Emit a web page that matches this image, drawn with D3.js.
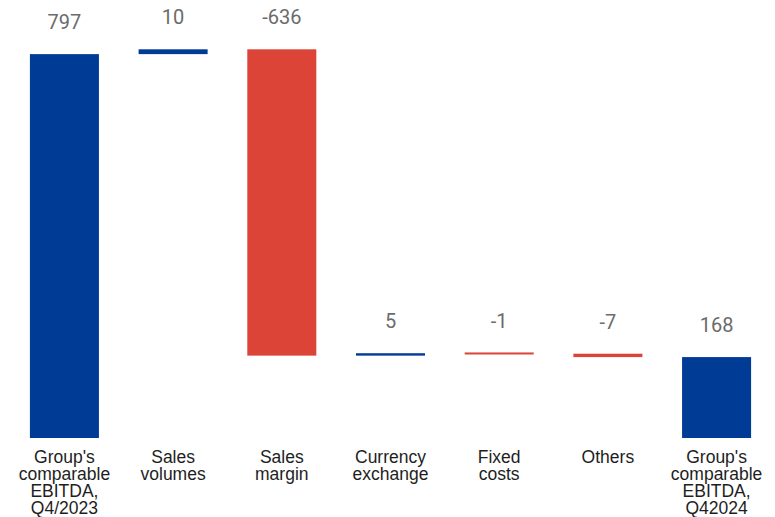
<!DOCTYPE html>
<html>
<head>
<meta charset="utf-8">
<script src="https://cdn.jsdelivr.net/npm/d3@7"></script>
<style>
  html, body { margin: 0; padding: 0; background: #fff; }
  svg { display: block; }
</style>
</head>
<body>
<svg id="chart" width="775" height="517"></svg>
<script>
// Waterfall: comparable EBITDA bridge
const categories = [
  "Group's comparable EBITDA, Q4/2023",
  "Sales volumes",
  "Sales margin",
  "Currency exchange",
  "Fixed costs",
  "Others",
  "Group's comparable EBITDA, Q42024"
];
const categoryLines = [
  ["Group's", "comparable", "EBITDA,", "Q4/2023"],
  ["Sales", "volumes"],
  ["Sales", "margin"],
  ["Currency", "exchange"],
  ["Fixed", "costs"],
  ["Others"],
  ["Group's", "comparable", "EBITDA,", "Q42024"]
];
const values = [797, 10, -636, 5, -1, -7, 168];
const kinds = ["total", "delta", "delta", "delta", "delta", "delta", "total"];

const BLUE = "#003b96";
const RED = "#db4437";

// running totals -> start/end for each bar
let running = 0;
const bars = values.map((v, i) => {
  let start, end;
  if (kinds[i] === "total") { start = 0; end = v; running = v; }
  else { start = running; end = running + v; running = end; }
  return { cat: categories[i], lines: categoryLines[i], value: v, start, end,
           color: (kinds[i] === "total" || v > 0) ? BLUE : RED };
});

const svg = d3.select("#chart");

const x = d3.scaleBand()
  .domain(categories)
  .range([6, 775])
  .paddingInner(0.365)
  .paddingOuter(0.22);

const maxTop = d3.max(bars, d => Math.max(d.start, d.end));
const y = d3.scaleLinear()
  .domain([0, maxTop])
  .range([438, 49.3]);

const minH = 2;

svg.append("g").selectAll("rect")
  .data(bars)
  .join("rect")
  .attr("x", d => x(d.cat))
  .attr("width", x.bandwidth())
  .attr("y", d => {
    const top = y(Math.max(d.start, d.end));
    const h = Math.abs(y(d.start) - y(d.end));
    return h < minH ? top - (minH - h) / 2 : top;
  })
  .attr("height", d => Math.max(minH, Math.abs(y(d.start) - y(d.end))))
  .attr("fill", d => d.color);

// value labels above each bar
svg.append("g").selectAll("text")
  .data(bars)
  .join("text")
  .attr("x", d => x(d.cat) + x.bandwidth() / 2)
  .attr("y", d => y(Math.max(d.start, d.end)) - 25)
  .attr("text-anchor", "middle")
  .attr("font-family", "Roboto, 'Noto Sans', sans-serif")
  .attr("font-size", 20)
  .attr("fill", "#6b6b6b")
  .text(d => String(d.value));

// category labels under the baseline
const cat = svg.append("g").selectAll("text")
  .data(bars)
  .join("text")
  .attr("x", d => x(d.cat) + x.bandwidth() / 2)
  .attr("y", 462.5)
  .attr("text-anchor", "middle")
  .attr("font-family", "'Liberation Sans', Arial, sans-serif")
  .attr("font-size", 17.5)
  .attr("fill", "#1e1e1e");

cat.selectAll("tspan")
  .data(d => d.lines.map(l => ({ l, cx: x(d.cat) + x.bandwidth() / 2 })))
  .join("tspan")
  .attr("x", t => t.cx)
  .attr("dy", (t, i) => i === 0 ? 0 : 17.2)
  .text(t => t.l);
</script>
</body>
</html>
